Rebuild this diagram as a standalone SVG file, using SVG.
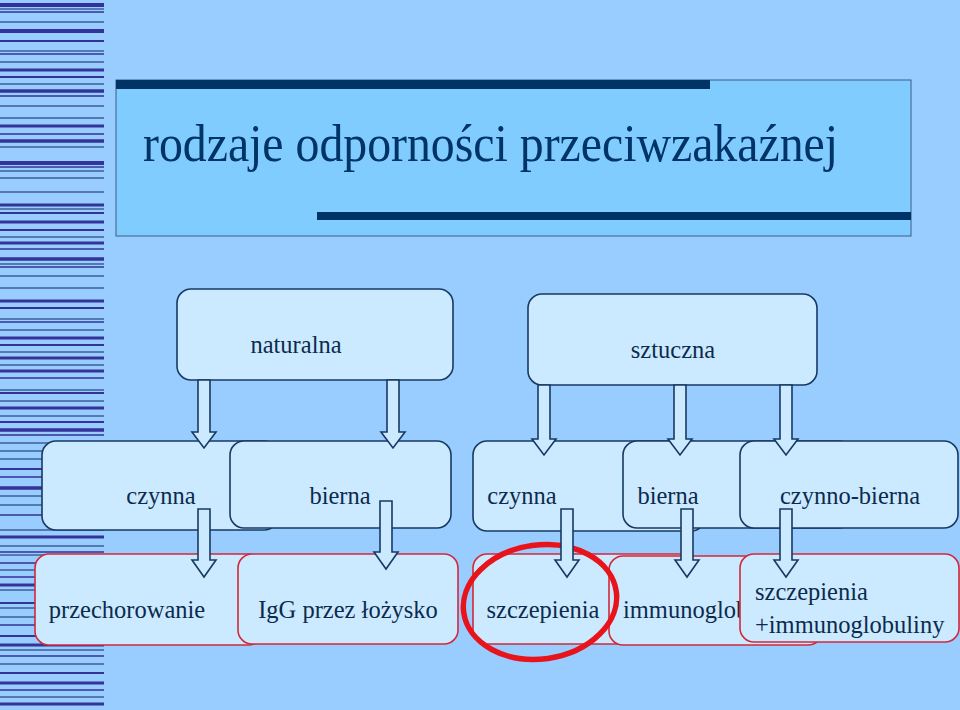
<svg xmlns="http://www.w3.org/2000/svg" width="960" height="710" viewBox="0 0 960 710">
<style>
.d{stroke:#333399}
.m{stroke:#3d6199}
.box{fill:#cceaff;stroke:#173a63;stroke-width:1.6}
.rbox{fill:#cceaff;stroke:#d02a3a;stroke-width:1.6}
.t{font-family:"Liberation Serif","Times New Roman",serif;font-size:24.5px;fill:#0d2a4d}
.title{font-family:"Liberation Serif","Times New Roman",serif;font-size:48px;fill:#003366}
.arr{fill:#cceaff;stroke:#173a63;stroke-width:1.6;stroke-linejoin:miter}
</style>
<rect x="0" y="0" width="960" height="710" fill="#99ccff"/>
<g id="stripes" stroke-width="1.5">
<line x1="0" x2="104" y1="5" y2="5" class="d" stroke-width="4"/>
<line x1="0" x2="104" y1="9" y2="9" class="m"/>
<line x1="0" x2="104" y1="12" y2="12" class="d"/>
<line x1="0" x2="104" y1="22" y2="22" class="m"/>
<line x1="0" x2="104" y1="31" y2="31" class="d" stroke-width="4"/>
<line x1="0" x2="104" y1="41" y2="41" class="d" stroke-width="2"/>
<line x1="0" x2="104" y1="51" y2="51" class="m"/>
<line x1="0" x2="104" y1="54" y2="54" class="d"/>
<line x1="0" x2="104" y1="62" y2="62" class="m"/>
<line x1="0" x2="104" y1="70" y2="70" class="d" stroke-width="3"/>
<line x1="0" x2="104" y1="77" y2="77" class="d" stroke-width="2"/>
<line x1="0" x2="104" y1="84" y2="84" class="m"/>
<line x1="0" x2="104" y1="91" y2="91" class="d" stroke-width="3.5"/>
<line x1="0" x2="104" y1="96" y2="96" class="d"/>
<line x1="0" x2="104" y1="106" y2="106" class="m"/>
<line x1="0" x2="104" y1="118" y2="118" class="m"/>
<line x1="0" x2="104" y1="126" y2="126" class="d" stroke-width="3"/>
<line x1="0" x2="104" y1="134" y2="134" class="d"/>
<line x1="0" x2="104" y1="141" y2="141" class="d" stroke-width="3.5"/>
<line x1="0" x2="104" y1="147" y2="147" class="m"/>
<line x1="0" x2="104" y1="163" y2="163" class="d" stroke-width="4"/>
<line x1="0" x2="104" y1="167" y2="167" class="d"/>
<line x1="0" x2="104" y1="171" y2="171" class="m"/>
<line x1="0" x2="104" y1="178" y2="178" class="m"/>
<line x1="0" x2="104" y1="192" y2="192" class="m"/>
<line x1="0" x2="104" y1="205" y2="205" class="d" stroke-width="3"/>
<line x1="0" x2="104" y1="209" y2="209" class="m"/>
<line x1="0" x2="104" y1="213" y2="213" class="d" stroke-width="2"/>
<line x1="0" x2="104" y1="222" y2="222" class="d" stroke-width="3"/>
<line x1="0" x2="104" y1="230" y2="230" class="d" stroke-width="2"/>
<line x1="0" x2="104" y1="237" y2="237" class="m"/>
<line x1="0" x2="104" y1="243" y2="243" class="d" stroke-width="3"/>
<line x1="0" x2="104" y1="249" y2="249" class="d"/>
<line x1="0" x2="104" y1="259" y2="259" class="d" stroke-width="3.5"/>
<line x1="0" x2="104" y1="264" y2="264" class="m"/>
<line x1="0" x2="104" y1="267" y2="267" class="d"/>
<line x1="0" x2="104" y1="276" y2="276" class="m"/>
<line x1="0" x2="104" y1="288" y2="288" class="m"/>
<line x1="0" x2="104" y1="301" y2="301" class="d" stroke-width="3"/>
<line x1="0" x2="104" y1="308" y2="308" class="d" stroke-width="2"/>
<line x1="0" x2="104" y1="319" y2="319" class="m"/>
<line x1="0" x2="104" y1="322" y2="322" class="d"/>
<line x1="0" x2="104" y1="330" y2="330" class="m"/>
<line x1="0" x2="104" y1="338" y2="338" class="d" stroke-width="3"/>
<line x1="0" x2="104" y1="345" y2="345" class="d" stroke-width="2"/>
<line x1="0" x2="104" y1="352" y2="352" class="m"/>
<line x1="0" x2="104" y1="358" y2="358" class="d" stroke-width="3"/>
<line x1="0" x2="104" y1="365" y2="365" class="m"/>
<line x1="0" x2="104" y1="371" y2="371" class="d" stroke-width="3"/>
<line x1="0" x2="104" y1="378" y2="378" class="d"/>
<line x1="0" x2="104" y1="390" y2="390" class="m"/>
<line x1="0" x2="104" y1="393" y2="393" class="d" stroke-width="2"/>
<line x1="0" x2="104" y1="401" y2="401" class="m"/>
<line x1="0" x2="104" y1="408" y2="408" class="d" stroke-width="3"/>
<line x1="0" x2="104" y1="416" y2="416" class="m"/>
<line x1="0" x2="104" y1="422" y2="422" class="d" stroke-width="2"/>
<line x1="0" x2="104" y1="430" y2="430" class="d" stroke-width="3.5"/>
<line x1="0" x2="104" y1="435" y2="435" class="d"/>
<line x1="0" x2="104" y1="443" y2="443" class="m"/>
<line x1="0" x2="104" y1="451" y2="451" class="m"/>
<line x1="0" x2="104" y1="459" y2="459" class="m"/>
<line x1="0" x2="104" y1="469" y2="469" class="d" stroke-width="2"/>
<line x1="0" x2="104" y1="477" y2="477" class="d"/>
<line x1="0" x2="104" y1="488" y2="488" class="d" stroke-width="3.5"/>
<line x1="0" x2="104" y1="496" y2="496" class="m"/>
<line x1="0" x2="104" y1="505" y2="505" class="m"/>
<line x1="0" x2="104" y1="515" y2="515" class="d"/>
<line x1="0" x2="104" y1="530" y2="530" class="m"/>
<line x1="0" x2="104" y1="537" y2="537" class="d" stroke-width="3"/>
<line x1="0" x2="104" y1="546" y2="546" class="m"/>
<line x1="0" x2="104" y1="552" y2="552" class="d"/>
<line x1="0" x2="104" y1="555" y2="555" class="m"/>
<line x1="0" x2="104" y1="563" y2="563" class="d"/>
<line x1="0" x2="104" y1="570" y2="570" class="m"/>
<line x1="0" x2="104" y1="577" y2="577" class="d"/>
<line x1="0" x2="104" y1="585" y2="585" class="d" stroke-width="3"/>
<line x1="0" x2="104" y1="590" y2="590" class="m"/>
<line x1="0" x2="104" y1="603" y2="603" class="d" stroke-width="2"/>
<line x1="0" x2="104" y1="608" y2="608" class="m"/>
<line x1="0" x2="104" y1="617" y2="617" class="m"/>
<line x1="0" x2="104" y1="625" y2="625" class="d"/>
<line x1="0" x2="104" y1="636" y2="636" class="d" stroke-width="2"/>
<line x1="0" x2="104" y1="645" y2="645" class="d" stroke-width="3"/>
<line x1="0" x2="104" y1="650" y2="650" class="m"/>
<line x1="0" x2="104" y1="656" y2="656" class="d"/>
<line x1="0" x2="104" y1="664" y2="664" class="m"/>
<line x1="0" x2="104" y1="673" y2="673" class="d" stroke-width="2"/>
<line x1="0" x2="104" y1="683" y2="683" class="d" stroke-width="3"/>
<line x1="0" x2="104" y1="690" y2="690" class="d"/>
<line x1="0" x2="104" y1="697" y2="697" class="m"/>
<line x1="0" x2="104" y1="704" y2="704" class="d" stroke-width="3"/>
</g>
<g id="title">
<rect x="116" y="80" width="795" height="156" fill="#80ccff" stroke="#3b5f86" stroke-width="1"/>
<rect x="116" y="80" width="594" height="9" fill="#003366"/>
<rect x="317" y="212" width="594" height="8" fill="#003366"/>
<text class="title" x="143" y="161" textLength="695" lengthAdjust="spacingAndGlyphs" transform="translate(0 161) scale(1 1.08) translate(0 -161)">rodzaje odporności przeciwzakaźnej</text>
</g>
<g id="naturalna"><rect class="box" x="177" y="289" width="276" height="91" rx="14"/><text class="t" x="296" y="353" text-anchor="middle">naturalna</text></g>
<g id="sztuczna"><rect class="box" x="528" y="294" width="289" height="91" rx="14"/><text class="t" x="673" y="358" text-anchor="middle">sztuczna</text></g>
<g id="czynna-nat"><rect class="box" x="42" y="441" width="236" height="89" rx="14"/><text class="t" x="161" y="504" text-anchor="middle">czynna</text></g>
<g id="bierna-nat"><rect class="box" x="230" y="441" width="221" height="87" rx="14"/><text class="t" x="340" y="504" text-anchor="middle">bierna</text></g>
<g id="czynna-szt"><rect class="box" x="473" y="441" width="232" height="90" rx="14"/><text class="t" x="522" y="504" text-anchor="middle">czynna</text></g>
<g id="bierna-szt"><rect class="box" x="623" y="441" width="230" height="87" rx="14"/><text class="t" x="668" y="504" text-anchor="middle">bierna</text></g>
<g id="czynno-bierna"><rect class="box" x="740" y="441" width="218" height="87" rx="14"/><text class="t" x="850" y="504" text-anchor="middle">czynno-bierna</text></g>
<g id="przechorowanie"><rect class="rbox" x="35" y="554" width="228" height="91" rx="14"/><text class="t" x="127" y="618" text-anchor="middle">przechorowanie</text></g>
<g id="igg"><rect class="rbox" x="238" y="554" width="220" height="90" rx="14"/><text class="t" x="348" y="618" text-anchor="middle">IgG przez łożysko</text></g>
<g id="szczepienia"><rect class="rbox" x="473" y="554" width="227" height="90" rx="14"/><text class="t" x="543" y="618" text-anchor="middle">szczepienia</text></g>
<g id="immunoglobuliny"><rect class="rbox" x="609" y="556" width="213" height="89" rx="14"/><text class="t" x="623" y="618">immunoglobuliny</text></g>
<g id="szczepienia-immunoglobuliny"><rect class="rbox" x="740" y="554" width="219" height="88" rx="14"/><text class="t" x="755" y="600">szczepienia</text><text class="t" x="755" y="633">+immunoglobuliny</text></g>
<g id="highlight"><ellipse cx="540" cy="602" rx="77" ry="57" transform="rotate(-8 540 602)" fill="none" stroke="#e8141c" stroke-width="5.5"/></g>
<g id="connectors">
<polygon class="arr" points="198,380 210,380 210,432 216,432 204,448 192,432 198,432"/>
<polygon class="arr" points="387,380 399,380 399,432 405,432 393,448 381,432 387,432"/>
<polygon class="arr" points="538,385 550,385 550,439 556,439 544,455 532,439 538,439"/>
<polygon class="arr" points="674,385 686,385 686,439 692,439 680,455 668,439 674,439"/>
<polygon class="arr" points="780,385 792,385 792,439 798,439 786,455 774,439 780,439"/>
<polygon class="arr" points="198,509 210,509 210,560 216,560 204,577 192,560 198,560"/>
<polygon class="arr" points="380,501 392,501 392,552 398,552 386,569 374,552 380,552"/>
<polygon class="arr" points="561,509 573,509 573,560 579,560 567,577 555,560 561,560"/>
<polygon class="arr" points="681,509 693,509 693,560 699,560 687,577 675,560 681,560"/>
<polygon class="arr" points="780,509 792,509 792,560 798,560 786,577 774,560 780,560"/>
</g>
</svg>
